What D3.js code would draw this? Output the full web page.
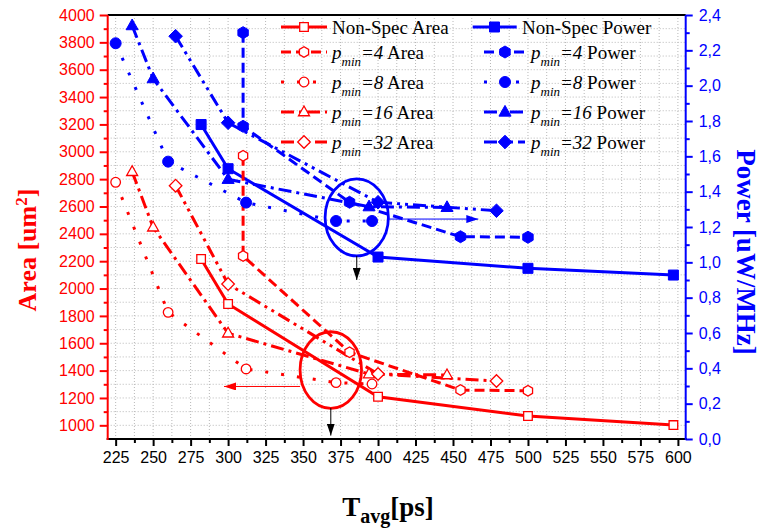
<!DOCTYPE html>
<html><head><meta charset="utf-8">
<script src="https://cdn.jsdelivr.net/npm/d3@7"></script>
<style>html,body{margin:0;padding:0;background:#fff;}svg{display:block;}</style>
</head><body>
<svg id="c" width="762" height="532"></svg>
<script>
// ---------- DATA ----------
const xTicksMajor = [225,250,275,300,325,350,375,400,425,450,475,500,525,550,575,600];
const areaTicks = [1000,1200,1400,1600,1800,2000,2200,2400,2600,2800,3000,3200,3400,3600,3800,4000];
const powerTicks = [0,0.2,0.4,0.6,0.8,1.0,1.2,1.4,1.6,1.8,2.0,2.2,2.4];

const nsX = [282, 300, 400, 500, 597];
const nsArea = [2216, 1887, 1209, 1068, 1002];
const nsPower = [1.78, 1.53, 1.03, 0.966, 0.928];

const p4X = [310, 310, 381, 455, 500];
const p4Area = [2971, 2238, 1534, 1258, 1253];
const p4Power = [2.30, 1.77, 1.34, 1.145, 1.142];

const p8X = [225, 260, 312, 372, 396];
const p8Area = [2777, 1826, 1412, 1312, 1302];
const p8Power = [2.24, 1.57, 1.338, 1.234, 1.234];

const p16X = [236, 250, 300, 394, 446];
const p16Area = [2854, 2448, 1673, 1375, 1368];
const p16Power = [2.34, 2.04, 1.47, 1.315, 1.311];

const p32X = [265, 300, 400, 479];
const p32Area = [2752, 2033, 1375, 1324];
const p32Power = [2.28, 1.79, 1.34, 1.292];

const seriesNames = ["Non-Spec", "4", "8", "16", "32"];

// ---------- LAYOUT ----------
const svg = d3.select("#c");
const L = 107.7, R = 685.7, T = 15, B = 439;
const x = d3.scaleLinear().domain([219.7, 605.2]).range([L, R]);
const yA = d3.scaleLinear().domain([900, 4000]).range([B, T]);
const yP = d3.scaleLinear().domain([0, 2.4]).range([B, T]);
const RED = "#ff0000", BLUE = "#0000ff";

// grid
const gGrid = svg.append("g").attr("stroke", "#b8b8b8").attr("stroke-width", 1).attr("stroke-dasharray", "1,2");
d3.range(225, 600.1, 12.5).forEach(v => {
  gGrid.append("line").attr("x1", x(v)).attr("x2", x(v)).attr("y1", T).attr("y2", B);
});
d3.range(1000, 3950, 100).forEach(v => {
  gGrid.append("line").attr("x1", L).attr("x2", R).attr("y1", yA(v)).attr("y2", yA(v));
});

// arrow markers
const defs = svg.append("defs");
[["k","#000"],["r",RED],["b",BLUE]].forEach(([id,c]) => {
  defs.append("marker").attr("id","ah"+id).attr("viewBox","0 0 12 8").attr("refX",12).attr("refY",4)
    .attr("markerWidth",12).attr("markerHeight",8).attr("markerUnits","userSpaceOnUse").attr("orient","auto")
    .append("path").attr("d","M0,0 L12,4 L0,8 Z").attr("fill",c);
});

// annotations (in data units)
const gAnn = svg.append("g");
// blue ellipse
gAnn.append("ellipse").attr("cx", x(385.8)).attr("cy", yP(1.254))
  .attr("rx", x(385.8+21.1)-x(385.8)).attr("ry", yP(1.254)-yP(1.254+0.218))
  .attr("fill","none").attr("stroke",BLUE).attr("stroke-width",2.8);
gAnn.append("line").attr("x1", x(407)).attr("y1", yP(1.245)).attr("x2", x(466.9)).attr("y2", yP(1.245))
  .attr("stroke",BLUE).attr("stroke-width",1).attr("marker-end","url(#ahb)");
gAnn.append("line").attr("x1", x(385.8)).attr("y1", yP(1.036)).attr("x2", x(385.8)).attr("y2", yP(0.90))
  .attr("stroke","#000").attr("stroke-width",1).attr("marker-end","url(#ahk)");
// red ellipse
gAnn.append("ellipse").attr("cx", x(368.5)).attr("cy", yA(1404))
  .attr("rx", x(368.5+20.5)-x(368.5)).attr("ry", yA(1404)-yA(1404+280))
  .attr("fill","none").attr("stroke",RED).attr("stroke-width",2.8);
gAnn.append("line").attr("x1", x(348)).attr("y1", yA(1284)).attr("x2", x(297.3)).attr("y2", yA(1284))
  .attr("stroke",RED).attr("stroke-width",1).attr("marker-end","url(#ahr)");
gAnn.append("line").attr("x1", x(368.5)).attr("y1", yA(1126)).attr("x2", x(368.5)).attr("y2", yA(925))
  .attr("stroke","#000").attr("stroke-width",1).attr("marker-end","url(#ahk)");

// marker shapes
function shape(type, s) {
  if (type === "square") return `M${-s},${-s}h${2*s}v${2*s}h${-2*s}Z`;
  if (type === "circle") return d3.symbol(d3.symbolCircle, Math.PI*s*s)();
  if (type === "tri") return `M0,${-s*1.2}L${s*1.1},${s*0.75}L${-s*1.1},${s*0.75}Z`;
  if (type === "diamond") return `M0,${-s}L${s},0L0,${s}L${-s},0Z`;
  if (type === "hex") {
    const p = d3.range(6).map(i => { const a = Math.PI/6 + i*Math.PI/3; return [s*Math.cos(a), s*Math.sin(a)]; });
    return "M" + p.map(q => q.join(",")).join("L") + "Z";
  }
}
const styles = [
  {dash: null, redM: ["square",4.3], blueM: ["square",5]},
  {dash: "10,5", redM: ["hex",5.3], blueM: ["hex",6]},
  {dash: "3,13", redM: ["circle",4.8], blueM: ["circle",5.5]},
  {dash: "13,5,3,5", redM: ["tri",5], blueM: ["tri",5.5]},
  {dash: "13,5,3,5,3,5", redM: ["diamond",6.3], blueM: ["diamond",6.8]}
];
const xs = [nsX, p4X, p8X, p16X, p32X];
const areas = [nsArea, p4Area, p8Area, p16Area, p32Area];
const powers = [nsPower, p4Power, p8Power, p16Power, p32Power];

const gLines = svg.append("g");
const gMarks = svg.append("g");
function drawSeries(xv, yv, yScale, color, st, filled, marker) {
  const pts = xv.map((v,i) => [x(v), yScale(yv[i])]);
  gLines.append("path").attr("d", d3.line()(pts)).attr("fill","none").attr("stroke",color)
    .attr("stroke-width",3).attr("stroke-dasharray", st.dash);
  pts.forEach(p => {
    gMarks.append("path").attr("d", shape(marker[0], marker[1])).attr("transform",`translate(${p[0]},${p[1]})`)
      .attr("fill", filled ? color : "#fff").attr("stroke", color).attr("stroke-width", filled ? 1 : 1.3);
  });
}
for (let i = 0; i < 5; i++) drawSeries(xs[i], powers[i], yP, BLUE, styles[i], true, styles[i].blueM);
for (let i = 0; i < 5; i++) drawSeries(xs[i], areas[i], yA, RED, styles[i], false, styles[i].redM);

// axes
const fontTick = "'Liberation Sans', Arial, sans-serif";
const gx = svg.append("g").attr("transform", `translate(0,${B})`)
  .call(d3.axisBottom(x).tickValues(d3.range(237.5, 600, 25)).tickSize(4).tickFormat(""));
const gx2 = svg.append("g").attr("transform", `translate(0,${B})`)
  .call(d3.axisBottom(x).tickValues(xTicksMajor).tickSize(7).tickPadding(6).tickFormat(d3.format("d")));
[gx, gx2].forEach(g => { g.select(".domain").remove(); g.selectAll("line").attr("stroke","#000").attr("stroke-width",2); });
gx2.selectAll("text").attr("font-family", fontTick).attr("font-size", 16).attr("fill","#000");

const gl = svg.append("g").attr("transform", `translate(${L},0)`)
  .call(d3.axisLeft(yA).tickValues(d3.range(1100, 4000, 200)).tickSize(4).tickFormat(""));
const gl2 = svg.append("g").attr("transform", `translate(${L},0)`)
  .call(d3.axisLeft(yA).tickValues(areaTicks).tickSize(8).tickPadding(5).tickFormat(d3.format("d")));
[gl, gl2].forEach(g => { g.select(".domain").remove(); g.selectAll("line").attr("stroke",RED).attr("stroke-width",2); });
gl2.selectAll("text").attr("font-family", fontTick).attr("font-size", 16).attr("fill",RED);

const fmtP = v => d3.format(".1f")(v).replace(".", ",");
const gr = svg.append("g").attr("transform", `translate(${R},0)`)
  .call(d3.axisRight(yP).tickValues(d3.range(0.1, 2.4, 0.2)).tickSize(4).tickFormat(""));
const gr2 = svg.append("g").attr("transform", `translate(${R},0)`)
  .call(d3.axisRight(yP).tickValues(powerTicks).tickSize(7).tickPadding(6).tickFormat(fmtP));
[gr, gr2].forEach(g => { g.select(".domain").remove(); g.selectAll("line").attr("stroke",BLUE).attr("stroke-width",2); });
gr2.selectAll("text").attr("font-family", fontTick).attr("font-size", 16).attr("fill",BLUE);

// frame lines
svg.append("line").attr("x1",L).attr("x2",R).attr("y1",T).attr("y2",T).attr("stroke","#000").attr("stroke-width",2);
svg.append("line").attr("x1",L-1).attr("x2",R+1).attr("y1",B).attr("y2",B).attr("stroke","#000").attr("stroke-width",2);
svg.append("line").attr("x1",L).attr("x2",L).attr("y1",T).attr("y2",B+1).attr("stroke",RED).attr("stroke-width",2);
svg.append("line").attr("x1",R).attr("x2",R).attr("y1",T).attr("y2",B+1).attr("stroke",BLUE).attr("stroke-width",2);

// titles
const serif = "'Liberation Serif', 'Times New Roman', serif";
const tA = svg.append("text").attr("transform","translate(36,250) rotate(-90)").attr("text-anchor","middle")
  .attr("font-family",serif).attr("font-weight","bold").attr("font-size",26).attr("fill",RED);
tA.append("tspan").text("Area [um");
tA.append("tspan").attr("baseline-shift","super").attr("font-size",17).text("2");
tA.append("tspan").text("]");
svg.append("text").attr("transform","translate(737,252) rotate(90)").attr("text-anchor","middle")
  .attr("font-family",serif).attr("font-weight","bold").attr("font-size",27).attr("fill",BLUE)
  .text("Power [uW/MHz]");
const tX = svg.append("text").attr("x",388).attr("y",516).attr("text-anchor","middle")
  .attr("font-family",serif).attr("font-weight","bold").attr("font-size",27).attr("fill","#000");
tX.append("tspan").text("T");
tX.append("tspan").attr("baseline-shift","-35%").attr("font-size",20).text("avg");
tX.append("tspan").attr("baseline-shift","0%").attr("dy",0).text("[ps]");

// legend
const gLeg = svg.append("g").attr("font-family",serif).attr("font-size",19);
const rowY = [27, 52, 82, 112, 142];
function legLabel(g, i, kind, tx, ty) {
  const t = g.append("text").attr("x",tx).attr("y",ty+6.5).attr("fill","#000");
  if (i === 0) { t.text("Non-Spec " + kind); return; }
  t.append("tspan").attr("font-style","italic").text("p");
  t.append("tspan").attr("font-style","italic").attr("font-size",13).attr("dy",7).text("min");
  t.append("tspan").attr("font-style","italic").attr("dy",-7).text("=" + seriesNames[i]);
  t.append("tspan").text(" " + kind);
}
for (let i = 0; i < 5; i++) {
  const y = rowY[i];
  const st = styles[i];
  // red column
  gLeg.append("line").attr("x1",281).attr("x2",327).attr("y1",y).attr("y2",y).attr("stroke",RED)
    .attr("stroke-width",3).attr("stroke-dasharray", st.dash);
  gLeg.append("path").attr("d", shape(st.redM[0], st.redM[1])).attr("transform",`translate(304,${y})`)
    .attr("fill","#fff").attr("stroke",RED).attr("stroke-width",1.3);
  legLabel(gLeg, i, "Area", 332, y);
  // blue column
  const bx0 = i === 0 ? 472.7 : 484, bx1 = i === 0 ? 516.7 : 525, bm = i === 0 ? 494.5 : 505, btx = i === 0 ? 522 : 531;
  gLeg.append("line").attr("x1",bx0).attr("x2",bx1).attr("y1",y).attr("y2",y).attr("stroke",BLUE)
    .attr("stroke-width",3).attr("stroke-dasharray", st.dash);
  gLeg.append("path").attr("d", shape(st.blueM[0], st.blueM[1])).attr("transform",`translate(${bm},${y})`)
    .attr("fill",BLUE).attr("stroke",BLUE).attr("stroke-width",1);
  legLabel(gLeg, i, "Power", btx, y);
}
</script>
</body></html>
